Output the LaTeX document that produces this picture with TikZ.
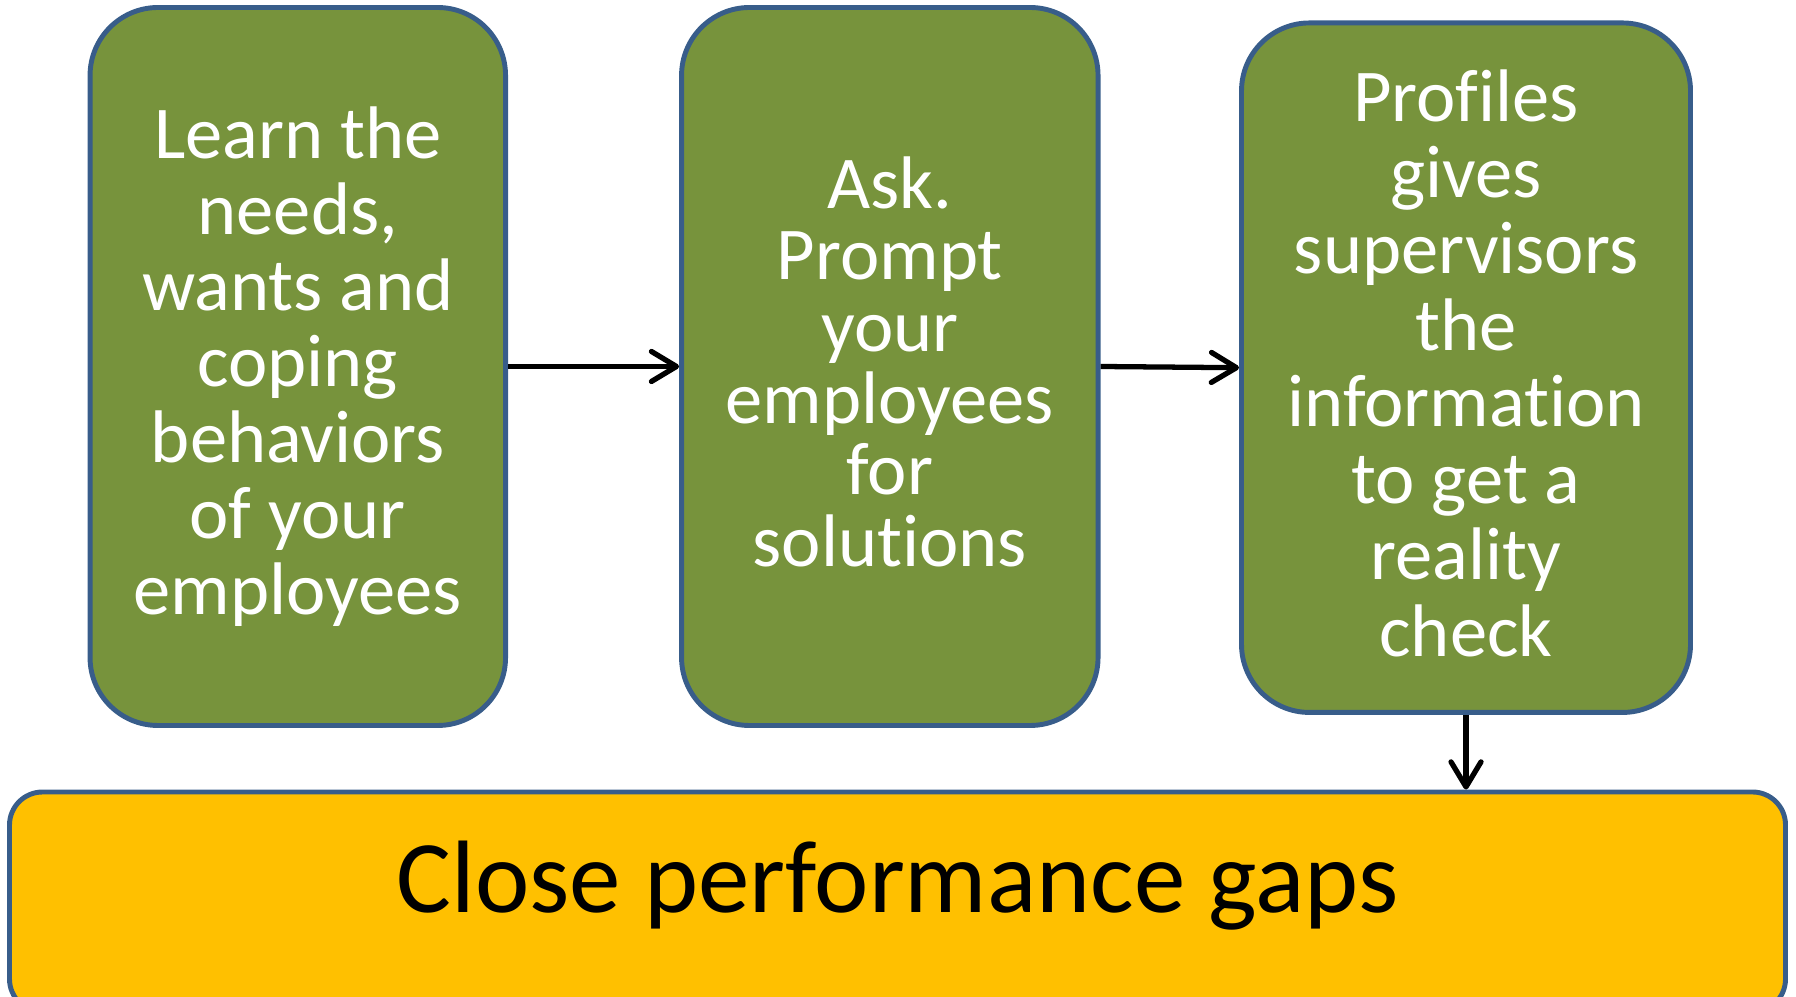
\documentclass[tikz,border=0pt]{standalone}
\usepackage{fontspec}
\setmainfont{Carlito}[Ligatures=NoCommon]
\usepackage{xcolor}
\usetikzlibrary{
    arrows.meta,
    calc,
    positioning
}
\definecolor{stepgreen}{RGB}{119,147,60}
\definecolor{stepblue}{RGB}{56,93,138}
\definecolor{gapyellow}{RGB}{255,192,0}
\tikzset{stepbox/.style={draw=stepblue, line width=1.4pt, fill=stepgreen, rounded corners=0.68cm,
        inner sep=0pt, align=center, text=white, font=\fontsize{21.2pt}{21.6pt}\selectfont},
    gapbox/.style={draw=stepblue, line width=1.4pt, fill=gapyellow, rounded corners=0.33cm,
        inner sep=0pt, text height=1.0em, text depth=0.41em, font=\fontsize{29.3pt}{31pt}\selectfont},
    flow/.style={line width=1.5pt, -{Straight Barb[length=2.5mm, width=3mm, round]}}}

\begin{document}
\begin{tikzpicture}
                        \useasboundingbox (0, 0) rectangle (17.96, -9.97);
                        \clip (0, 0) rectangle (17.96, -9.97);
                        \node[stepbox, minimum width=4.155cm, minimum height=7.18cm] (learn) at (2.978, -3.665)
                        {Learn the\\needs,\\wants and\\coping\\behaviors\\of your\\employees};
                        \node[stepbox, minimum width=4.165cm, minimum height=7.18cm,
                        font=\fontsize{21.2pt}{20.4pt}\selectfont] (ask) at (8.898, -3.665)
                        {Ask.\\Prompt\\your\\employees\\for\\solutions\rule[-0.1cm]{0pt}{0pt}};
                        \node[stepbox, minimum width=4.49cm, minimum height=6.895cm,
                        font=\fontsize{21.2pt}{21.75pt}\selectfont] (profiles) at (14.66, -3.677)
                        {Profiles\\gives\\supervisors\\the\\information\\to get a\\reality\\check\rule[-0.1cm]{0pt}{0pt}};
                        \node[gapbox, minimum width=17.76cm, minimum height=2.2cm] (gaps) at (8.975, -9.02)
                        {Close performance gaps};
                        \draw
                        (learn.east) edge[flow] (ask.west)
                        (ask.east) edge[flow] (profiles.west)
                        (profiles.south) edge[flow] (profiles.south |- gaps.north);
                    \end{tikzpicture}
\end{document}
